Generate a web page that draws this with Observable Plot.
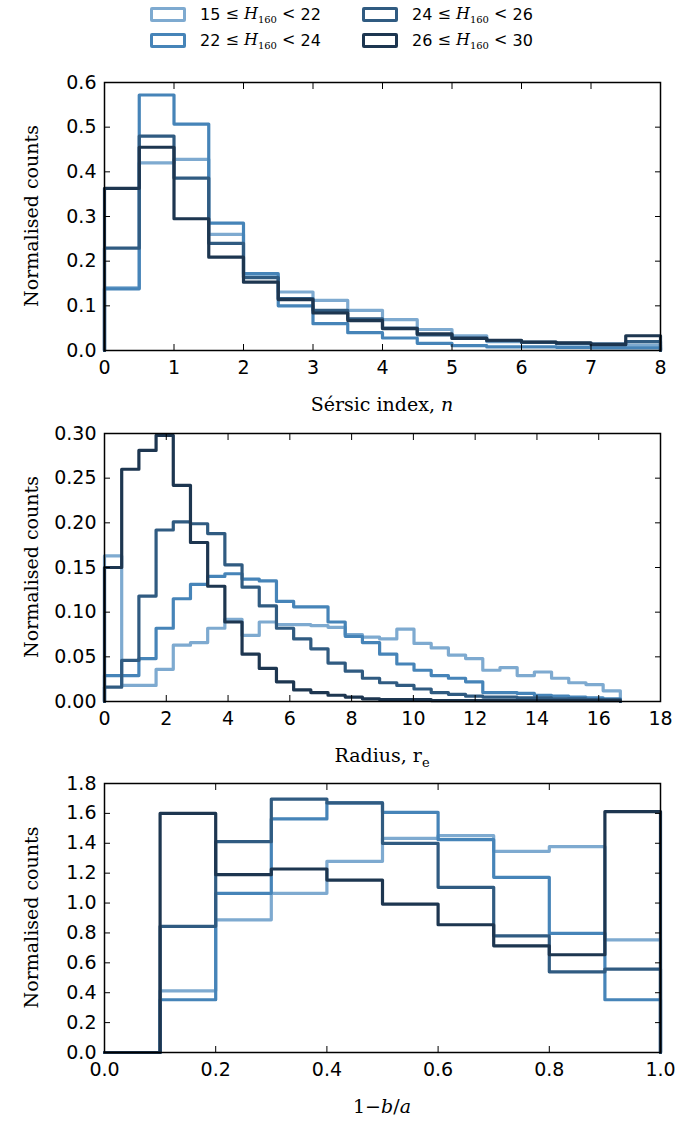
<!DOCTYPE html>
<html>
<head>
<meta charset="utf-8">
<script src="https://cdn.jsdelivr.net/npm/d3@7"></script>
<script src="https://cdn.jsdelivr.net/npm/@observablehq/plot@0.6"></script>
<style>
  body { margin: 0; background: white; font-family: "DejaVu Sans", sans-serif; }
  #legend { position: relative; height: 58px; width: 686px; }
  #chart { padding-bottom: 16px; }
  .item { position: absolute; font-size: 16px; display: flex; align-items: center; }
  .box { width: 30px; height: 9px; border: 3px solid; border-radius: 2px; margin-right: 14px; background: white; }
  .m { font-family: "DejaVu Serif", serif; }
  svg { display: block; overflow: visible; }
</style>
</head>
<body>
<div id="legend"></div>
<div id="chart"></div>
<script>
const groups = ['15 ≤ H160 < 22', '22 ≤ H160 < 24', '24 ≤ H160 < 26', '26 ≤ H160 < 30']
const colors = ['#7eaad0', '#4684b8', '#305b81', '#1d3650']

// Sersic index, bins of 0.5 from 0 to 8
const sersicA = [0.14, 0.42, 0.428, 0.26, 0.165, 0.131, 0.112, 0.09, 0.069, 0.047, 0.033, 0.02, 0.018, 0.015, 0.012, 0.012]
const sersicB = [0.138, 0.572, 0.507, 0.285, 0.172, 0.10, 0.06, 0.04, 0.028, 0.016, 0.011, 0.008, 0.008, 0.007, 0.006, 0.006]
const sersicC = [0.229, 0.48, 0.386, 0.24, 0.163, 0.116, 0.09, 0.071, 0.05, 0.035, 0.028, 0.022, 0.018, 0.016, 0.015, 0.02]
const sersicD = [0.363, 0.455, 0.295, 0.209, 0.153, 0.114, 0.084, 0.067, 0.049, 0.037, 0.027, 0.023, 0.019, 0.017, 0.013, 0.033]

// Radius, 30 bins from 0 to 16.7
const radiusA = [0.163, 0.018, 0.018, 0.036, 0.063, 0.066, 0.082, 0.092, 0.074, 0.089, 0.086, 0.086, 0.085, 0.083, 0.075, 0.072, 0.070, 0.081, 0.065, 0.060, 0.052, 0.048, 0.035, 0.038, 0.029, 0.033, 0.026, 0.021, 0.019, 0.012]
const radiusB = [0.029, 0.029, 0.048, 0.082, 0.115, 0.131, 0.140, 0.143, 0.137, 0.135, 0.112, 0.106, 0.106, 0.089, 0.073, 0.066, 0.053, 0.042, 0.035, 0.029, 0.026, 0.022, 0.010, 0.010, 0.009, 0.007, 0.006, 0.005, 0.004, 0.003]
const radiusC = [0.016, 0.046, 0.118, 0.192, 0.201, 0.199, 0.188, 0.153, 0.128, 0.107, 0.082, 0.070, 0.059, 0.043, 0.034, 0.026, 0.021, 0.018, 0.014, 0.010, 0.008, 0.006, 0.005, 0.005, 0.004, 0.004, 0.003, 0.003, 0.002, 0.002]
const radiusD = [0.150, 0.260, 0.281, 0.298, 0.242, 0.178, 0.129, 0.089, 0.053, 0.037, 0.022, 0.013, 0.010, 0.007, 0.005, 0.003, 0.002, 0.002, 0.002, 0.001, 0.001, 0.001, 0.001, 0.001, 0.001, 0.001, 0.001, 0.001, 0.001, 0.001]

// axis ratio 1-b/a, bins of 0.1
const ratioA = [0, 0.413, 0.888, 1.065, 1.279, 1.433, 1.451, 1.346, 1.377, 0.754]
const ratioB = [0, 0.353, 1.065, 1.563, 1.67, 1.607, 1.424, 1.172, 0.797, 0.353]
const ratioC = [0, 0.844, 1.411, 1.696, 1.67, 1.40, 1.105, 0.781, 0.54, 0.558]
const ratioD = [0, 1.60, 1.19, 1.228, 1.154, 0.993, 0.855, 0.714, 0.654, 1.612]

// legend
const legend = d3.select('#legend')
const pos = [[150, 4], [150, 30], [362, 4], [362, 30]]
const ranges = [['15', '22'], ['22', '24'], ['24', '26'], ['26', '30']]
groups.forEach((g, i) => {
  legend.append('div').attr('class', 'item')
    .style('left', pos[i][0] + 'px').style('top', pos[i][1] + 'px')
    .html(`<span class="box" style="border-color:${colors[i]}"></span>${ranges[i][0]} <span class="m">&nbsp;≤ <i>H</i><sub style="font-size:10px">160</sub> &lt;&nbsp;</span>${ranges[i][1]}`)
})

function steps(values, x0, x1) {
  const w = (x1 - x0) / values.length
  const pts = [{x: x0, y: 0}]
  values.forEach((v, i) => pts.push({x: x0 + i * w, y: v}))
  pts.push({x: x1, y: values[values.length - 1]})
  pts.push({x: x1, y: 0})
  return pts
}

function panel({series, xRange, xDomain, yDomain, xTicks, yTicks, yFmt, xFmt, mTop, mBottom, xlabel}) {
  const chart = Plot.plot({
    width: 686,
    height: 350,
    marginLeft: 104,
    marginRight: 26,
    marginTop: mTop,
    marginBottom: mBottom,
    style: {fontFamily: 'DejaVu Sans', fontSize: '19px', color: 'black', overflow: 'visible'},
    x: {domain: xDomain},
    y: {domain: yDomain},
    marks: [
      ...series.map((s, i) => Plot.lineY(steps(s, xRange[0], xRange[1]),
        {x: 'x', y: 'y', curve: 'step-after', stroke: colors[i], strokeWidth: 3.2})),
      Plot.axisX({ticks: xTicks, tickFormat: xFmt, tickSize: -6, tickPadding: 16, label: null, fontSize: 19}),
      Plot.axisX({anchor: 'top', ticks: xTicks, tickFormat: () => '', tickSize: -6, label: null}),
      Plot.axisY({ticks: yTicks, tickFormat: yFmt, tickSize: -6, tickPadding: 14, label: null, fontSize: 19}),
      Plot.axisY({anchor: 'right', ticks: yTicks, tickFormat: () => '', tickSize: -6, label: null}),
      Plot.frame({strokeWidth: 1.5})
    ]
  })
  const svg = d3.select(chart)
  const bottom = 350 - mBottom
  svg.append('text').attr('x', 382).attr('y', bottom + 61).attr('text-anchor', 'middle')
    .attr('font-family', 'DejaVu Serif').attr('font-size', 19).html(xlabel)
  svg.append('text').attr('transform', `translate(38,${(mTop + bottom) / 2}) rotate(-90)`)
    .attr('text-anchor', 'middle').attr('font-family', 'DejaVu Serif').attr('font-size', 19)
    .text('Normalised counts')
  d3.select('#chart').append(() => chart)
}

panel({series: [sersicA, sersicB, sersicC, sersicD], xRange: [0, 8], xDomain: [0, 8], yDomain: [0, 0.6],
  xTicks: d3.range(0, 9, 1), yTicks: d3.range(0, 0.61, 0.1), yFmt: d3.format('.1f'), xFmt: d3.format('d'),
  mTop: 24, mBottom: 58, xlabel: 'Sérsic index, <tspan font-style="italic">n</tspan>'})

panel({series: [radiusA, radiusB, radiusC, radiusD], xRange: [0, 16.7], xDomain: [0, 18], yDomain: [0, 0.3],
  xTicks: d3.range(0, 19, 2), yTicks: d3.range(0, 0.301, 0.05), yFmt: d3.format('.2f'), xFmt: d3.format('d'),
  mTop: 25, mBottom: 57, xlabel: 'Radius, r<tspan dy="5" font-size="13">e</tspan>'})

panel({series: [ratioA, ratioB, ratioC, ratioD], xRange: [0, 1], xDomain: [0, 1], yDomain: [0, 1.8],
  xTicks: d3.range(0, 1.01, 0.2), yTicks: d3.range(0, 1.81, 0.2), yFmt: d3.format('.1f'), xFmt: d3.format('.1f'),
  mTop: 25, mBottom: 56, xlabel: '1−<tspan font-style="italic">b</tspan>/<tspan font-style="italic">a</tspan>'})
</script>
</body>
</html>
